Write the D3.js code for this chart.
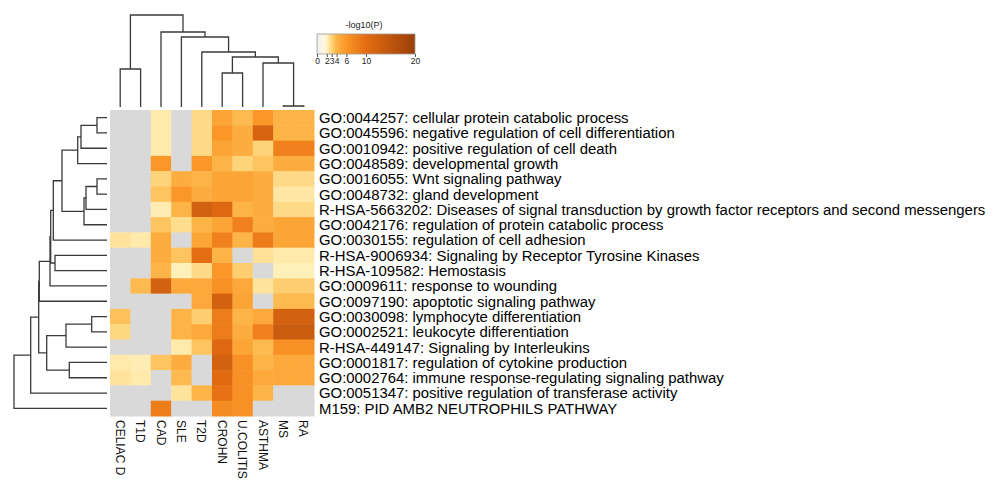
<!DOCTYPE html>
<html>
<head>
<meta charset="utf-8">
<script src="https://cdn.jsdelivr.net/npm/d3@7"></script>
<style>
  body { margin: 0; background: #fff; }
  text { font-family: "Liberation Sans", Arial, sans-serif; }
</style>
</head>
<body>
<div id="heatmap"></div>
<script>
var svgWidth = 1000;
var svgHeight = 483;

// columns (diseases) and rows (enriched terms), in display order
var colLabels = ["CELIAC D", "T1D", "CAD", "SLE", "T2D", "CROHN", "U.COLITIS", "ASTHMA", "MS", "RA"];

var rowLabels = [
  "GO:0044257: cellular protein catabolic process",
  "GO:0045596: negative regulation of cell differentiation",
  "GO:0010942: positive regulation of cell death",
  "GO:0048589: developmental growth",
  "GO:0016055: Wnt signaling pathway",
  "GO:0048732: gland development",
  "R-HSA-5663202: Diseases of signal transduction by growth factor receptors and second messengers",
  "GO:0042176: regulation of protein catabolic process",
  "GO:0030155: regulation of cell adhesion",
  "R-HSA-9006934: Signaling by Receptor Tyrosine Kinases",
  "R-HSA-109582: Hemostasis",
  "GO:0009611: response to wounding",
  "GO:0097190: apoptotic signaling pathway",
  "GO:0030098: lymphocyte differentiation",
  "GO:0002521: leukocyte differentiation",
  "R-HSA-449147: Signaling by Interleukins",
  "GO:0001817: regulation of cytokine production",
  "GO:0002764: immune response-regulating signaling pathway",
  "GO:0051347: positive regulation of transferase activity",
  "M159: PID AMB2 NEUTROPHILS PATHWAY"
];

// -log10(P) per row, one value per column; null = not significant (grey)
var logP = [
  [null, null, 2.3, null, 2.8, 5.0, 3.8, 6.0, 4.0, 4.0],
  [null, null, 2.3, null, 2.8, 6.0, 4.5, 12.0, 4.0, 4.0],
  [null, null, 2.3, null, 2.8, 5.0, 4.5, 3.0, 8.0, 8.0],
  [null, null, 6.0, null, 6.0, 4.0, 3.0, 3.5, 4.5, 4.5],
  [null, null, 3.0, 4.5, 4.0, 5.0, 5.0, 4.5, 2.8, 2.8],
  [null, null, 3.5, 6.0, 4.5, 5.0, 5.0, 4.5, 2.4, 2.4],
  [null, null, 2.2, 4.0, 12.5, 11.0, 4.0, 4.5, 2.8, 2.8],
  [null, null, 3.5, 2.7, 4.0, 5.0, 8.0, 4.5, 5.0, 5.0],
  [2.5, 2.3, 4.5, null, 5.0, 8.0, 4.0, 8.5, 5.0, 5.0],
  [null, null, 4.5, 3.5, 10.0, 4.0, null, 2.6, 2.3, 2.3],
  [null, null, 4.0, 2.1, 2.8, 6.0, 3.2, null, 2.1, 2.1],
  [null, 3.8, 12.5, 4.8, 4.8, 6.5, 4.8, 2.5, 3.2, 3.2],
  [null, null, null, null, 4.8, 12.5, 5.0, null, 3.8, 3.8],
  [3.6, null, null, 4.0, 3.2, 8.5, 4.0, 4.8, 12.5, 12.5],
  [2.9, null, null, 4.0, 4.8, 8.5, 4.5, 8.0, 13.5, 13.5],
  [null, null, null, 2.3, 3.5, 11.0, 5.0, 3.8, 6.5, 6.5],
  [2.3, 2.2, 3.5, 4.5, null, 12.5, 6.5, 4.0, 4.8, 4.8],
  [2.5, 2.3, null, 3.8, null, 10.5, 6.5, 4.8, 4.8, 4.8],
  [null, null, null, 2.5, 4.0, 9.5, 6.5, 4.0, null, null],
  [null, null, 8.5, null, null, 7.0, 6.5, null, null, null]
];

// hierarchical clustering, scipy style: [childA, childB, distance]
var rowLinkage = [
  [0, 1, 10], [20, 2, 26], [21, 3, 29.3], [4, 5, 10], [23, 6, 21], [24, 7, 23],
  [22, 25, 45], [26, 8, 53.7], [9, 10, 52], [27, 28, 56.3], [29, 11, 57],
  [30, 12, 67.7], [13, 14, 15.3], [32, 15, 41], [16, 17, 37.7], [33, 34, 60.3],
  [31, 35, 68.3], [36, 18, 76.3], [37, 19, 93]
];
var colLinkage = [
  [8, 9, 1], [5, 6, 34], [7, 10, 44], [11, 12, 50], [4, 13, 55],
  [3, 14, 70], [2, 15, 75], [0, 1, 38], [17, 16, 92]
];

// colour legend
var legendTicks = [0, 2, 3, 4, 6, 10, 20];
var colorStops = [0, 1.5, 2, 3, 4, 6, 10, 20];
var colorRange = ["#f0f0f0", "#fdf6e0", "#fff2c0", "#fed47a", "#fdb446", "#fb9628", "#e46c12", "#9a3f08"];

var svg = d3.select("#heatmap")
  .append("svg")
  .attr("width", svgWidth)
  .attr("height", svgHeight);

svg.append("rect")
  .attr("width", svgWidth)
  .attr("height", svgHeight)
  .attr("fill", "#fff");

// scales
var xScale = d3.scaleBand().domain(colLabels).range([110, 314]);
var yScale = d3.scaleBand().domain(rowLabels).range([110, 416]);
var colorScale = d3.scaleLinear().domain(colorStops).range(colorRange).clamp(true);

// Step 1: heatmap cells
var cells = [];
logP.forEach(function(row, i) {
  row.forEach(function(v, j) {
    cells.push({ row: rowLabels[i], col: colLabels[j], value: v });
  });
});

svg.append("g").selectAll("rect")
  .data(cells)
  .enter()
  .append("rect")
  .attr("x", d => xScale(d.col))
  .attr("y", d => yScale(d.row))
  .attr("width", xScale.bandwidth() + 0.5)
  .attr("height", yScale.bandwidth() + 0.5)
  .attr("fill", d => d.value == null ? "#d9d9d9" : colorScale(d.value));

// Step 2: row labels
svg.append("g").selectAll("text")
  .data(rowLabels)
  .enter()
  .append("text")
  .attr("x", 319)
  .attr("y", d => yScale(d) + yScale.bandwidth() / 2)
  .attr("dy", "0.36em")
  .attr("font-size", "14.9px")
  .attr("fill", "#000")
  .text(d => d);

// column labels, rotated
svg.append("g").selectAll("text")
  .data(colLabels)
  .enter()
  .append("text")
  .attr("transform", d => `translate(${xScale(d) + xScale.bandwidth() / 2}, 420) rotate(90)`)
  .attr("dy", "0.36em")
  .attr("font-size", "12px")
  .attr("fill", "#111")
  .text(d => d);

// Step 3: dendrograms
function dendroPaths(linkage, leafPos, hScale, vertical) {
  var nodes = leafPos.map(p => ({ pos: p, h: 0 }));
  var paths = [];
  linkage.forEach(function(m) {
    var a = nodes[m[0]], b = nodes[m[1]];
    var pts = [[a.pos, a.h], [a.pos, m[2]], [b.pos, m[2]], [b.pos, b.h]]
      .map(p => vertical ? [p[0], hScale(p[1])] : [hScale(p[1]), p[0]]);
    paths.push("M" + pts.map(p => p.join(",")).join("L"));
    nodes.push({ pos: (a.pos + b.pos) / 2, h: m[2] });
  });
  return paths;
}

var rowHeight = d3.scaleLinear().domain([0, 93]).range([107, 14]);
var colHeight = d3.scaleLinear().domain([0, 92]).range([107, 15]);

var rowPaths = dendroPaths(rowLinkage, rowLabels.map(d => yScale(d) + yScale.bandwidth() / 2), rowHeight, false);
var colPaths = dendroPaths(colLinkage, colLabels.map(d => xScale(d) + xScale.bandwidth() / 2), colHeight, true);

svg.append("g").selectAll("path")
  .data(rowPaths.concat(colPaths))
  .enter()
  .append("path")
  .attr("d", d => d)
  .attr("fill", "none")
  .attr("stroke", "#3a3a3a")
  .attr("stroke-width", 1.3);

// Step 4: colour legend
var legendX = d3.scaleLinear().domain([0, 20]).range([317, 415]);
var grad = svg.append("defs").append("linearGradient")
  .attr("id", "legendGrad");
grad.selectAll("stop")
  .data(d3.range(0, 20.01, 0.5))
  .enter()
  .append("stop")
  .attr("offset", d => (d / 20 * 100) + "%")
  .attr("stop-color", d => colorScale(d));

svg.append("rect")
  .attr("x", legendX(0))
  .attr("y", 34)
  .attr("width", legendX(20) - legendX(0))
  .attr("height", 20)
  .attr("fill", "url(#legendGrad)")
  .attr("stroke", "#999")
  .attr("stroke-width", 0.8);

var legendAxis = svg.append("g")
  .attr("transform", "translate(0, 54)")
  .call(d3.axisBottom(legendX).tickValues(legendTicks).tickSize(3).tickFormat(d3.format("d")));
legendAxis.select(".domain").remove();
legendAxis.selectAll("line").attr("stroke", "#555");
legendAxis.selectAll("text")
  .attr("font-size", "8.5px")
  .attr("font-family", "Liberation Sans, Arial, sans-serif")
  .attr("dy", "0.5em")
  .attr("fill", "#222");

svg.append("text")
  .attr("x", 364)
  .attr("y", 28)
  .attr("text-anchor", "middle")
  .attr("font-size", "9px")
  .attr("fill", "#222")
  .text("-log10(P)");
</script>
</body>
</html>
